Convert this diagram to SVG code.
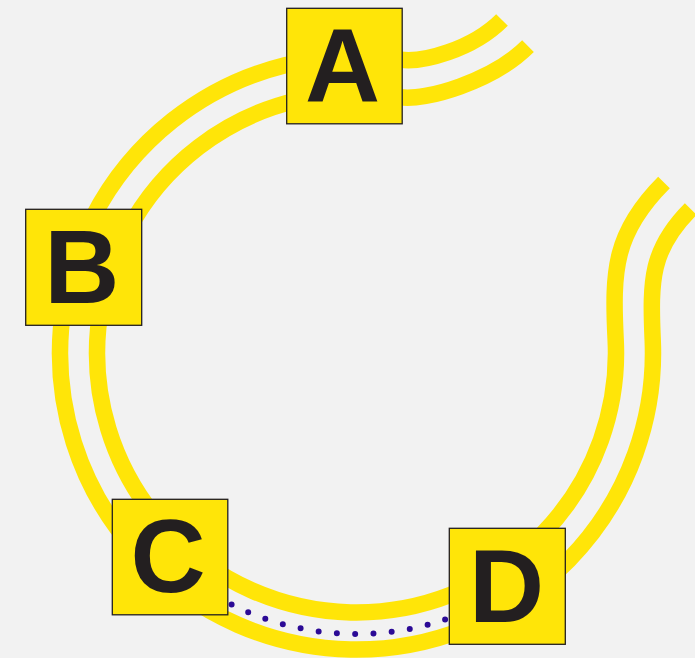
<svg xmlns="http://www.w3.org/2000/svg" width="695" height="658" viewBox="0 0 695 658">
<style>
.track{fill:none;stroke:#FFE508;stroke-width:16.5;stroke-linecap:butt;stroke-linejoin:round}
.dots{fill:none;stroke:#2B0A96;stroke-width:6;stroke-linecap:round;stroke-dasharray:0 1}
.box{fill:#FFE508;stroke:#231F20;stroke-width:1.3}
.lbl{font-family:"Liberation Sans",Arial,sans-serif;font-weight:bold;font-size:104px;fill:#231F20;text-anchor:middle}
</style>
<rect width="695" height="658" fill="#F2F2F2"/>
<g id="tracks">
<path class="track" d="M 528,46.2 C 493,81.2 424.6,101.4 400,97.17 A 259.5 259.5 0 1 0 615.67,340 C 612.2,270 614,232.5 664,182.5"/>
<path class="track" d="M 502,20 C 472,50 422,62.9 400,59.7 A 296.5 296.5 0 1 0 652.7,340 C 650.1,280 650.7,249 690.7,209"/>
</g>
<g id="connectors">
<path class="dots" pathLength="12" d="M 231.6,604.6 A 280 280 0 0 0 445.1,619.6"/>
</g>
<g id="node-A">
<rect class="box" x="286.7" y="8.3" width="115.5" height="115.5"/>
<text class="lbl" x="342.5" y="101.3">A</text>
</g>
<g id="node-B">
<rect class="box" x="25.7" y="209.3" width="116" height="116"/>
<text class="lbl" x="81.7" y="302.5">B</text>
</g>
<g id="node-C">
<rect class="box" x="112.3" y="499.3" width="115.5" height="115.5"/>
<text class="lbl" x="168" y="592.3">C</text>
</g>
<g id="node-D">
<rect class="box" x="449.3" y="528.3" width="116" height="116"/>
<text class="lbl" x="506.5" y="621.5">D</text>
</g>
</svg>
